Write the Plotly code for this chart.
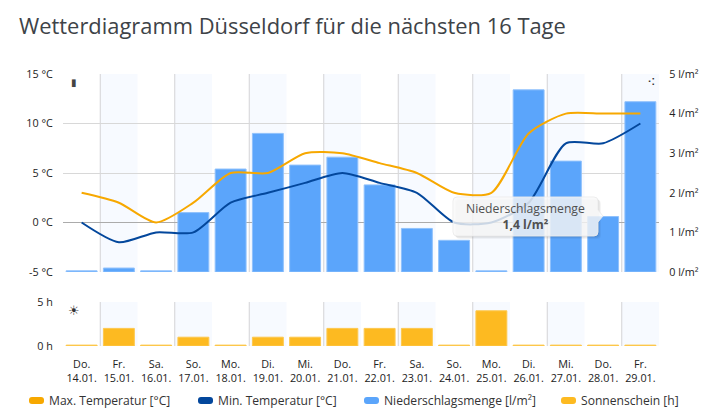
import plotly.graph_objects as go

days = ["Do.", "Fr.", "Sa.", "So.", "Mo.", "Di.", "Mi.", "Do.", "Fr.", "Sa.", "So.", "Mo.", "Di.", "Mi.", "Do.", "Fr."]
dates = ["14.01.", "15.01.", "16.01.", "17.01.", "18.01.", "19.01.", "20.01.", "21.01.",
         "22.01.", "23.01.", "24.01.", "25.01.", "26.01.", "27.01.", "28.01.", "29.01."]
temp_max = [3, 2, 0, 2, 5, 5, 7, 7, 6, 5, 3, 3, 9, 11, 11, 11]
temp_min = [0, -2, -1, -1, 2, 3, 4, 5, 4, 3, 0, 0, 2, 8, 8, 10]
rain = [0, 0.1, 0, 1.5, 2.6, 3.5, 2.7, 2.9, 2.2, 1.1, 0.8, 0, 4.6, 2.8, 1.4, 4.3]
sun = [0, 2, 0, 1, 0, 1, 1, 2, 2, 2, 0, 4, 0, 0, 0, 0]
temp_ticks = [-5, 0, 5, 10, 15]
rain_ticks = [0, 1, 2, 3, 4, 5]
sun_ticks = [0, 5]
legend_names = ["Max. Temperatur [°C]", "Min. Temperatur [°C]", "Niederschlagsmenge [l/m²]", "Sonnenschein [h]"]

FONT = "Open Sans"
PAGE = 8  # the page body offsets the figure by this many pixels
W, H = 728 - PAGE, 420 - PAGE
L, R, T, B = 63, 659, 74, 346  # plot area in screenshot pixels
idx = list(range(len(days)))
labels = [f"{d}<br>{t}" for d, t in zip(days, dates)]

px = lambda v: (v - L) / (R - L)
py = lambda v: (B - v) / (B - T)

# the reference gives zero values a minimum visible bar height (about 1 px)
min_len = lambda values, least: [max(v, least) for v in values]

fig = go.Figure()
fig.add_trace(go.Bar(x=idx, y=min_len(rain, 0.03), name=legend_names[2], yaxis="y", width=0.83,
                     marker=dict(color="#5BA5FB", line=dict(color="#8FC1FC", width=1)), showlegend=False))
fig.add_trace(go.Bar(x=idx, y=min_len(sun, 0.1), name=legend_names[3], xaxis="x", yaxis="y3", width=0.83,
                     marker=dict(color="#FDBA21", line=dict(color="#FDC84F", width=1)), showlegend=False))
fig.add_trace(go.Scatter(x=idx, y=temp_max, name=legend_names[0], mode="lines", yaxis="y2",
                         line=dict(color="#F7A800", width=2, shape="spline", smoothing=0.7), showlegend=False))
fig.add_trace(go.Scatter(x=idx, y=temp_min, name=legend_names[1], mode="lines", yaxis="y2",
                         line=dict(color="#03479C", width=2, shape="spline", smoothing=0.7), showlegend=False))

shapes = []
for i in idx:
    if i % 2 == 1:
        for yr in ("y domain", "y3 domain"):
            shapes.append(dict(type="rect", xref="x", yref=yr, x0=i - 0.5, x1=i + 0.5, y0=0, y1=1,
                               fillcolor="#F7FAFF", line_width=0, layer="below"))
        for yr in ("y domain", "y3 domain"):
            shapes.append(dict(type="line", xref="x", yref=yr, x0=i - 0.5, x1=i - 0.5, y0=0, y1=1,
                               line=dict(color="#D3D3D6", width=1), layer="below"))

def rrect(x0, y0, x1, y1, r, tip=None):
    p = f"M{px(x0+r)},{py(y0)} L{px(x1-r)},{py(y0)} Q{px(x1)},{py(y0)} {px(x1)},{py(y0+r)} "
    if tip:
        p += f"L{px(x1)},{py(tip[1]-6)} L{px(tip[0])},{py(tip[1])} L{px(x1)},{py(tip[1]+6)} "
    p += (f"L{px(x1)},{py(y1-r)} Q{px(x1)},{py(y1)} {px(x1-r)},{py(y1)} L{px(x0+r)},{py(y1)} "
          f"Q{px(x0)},{py(y1)} {px(x0)},{py(y1-r)} L{px(x0)},{py(y0+r)} Q{px(x0)},{py(y0)} {px(x0+r)},{py(y0)} Z")
    return p

for o, a in ((3, .04), (2, .05), (1, .06)):
    shapes.append(dict(type="path", xref="paper", yref="paper", path=rrect(453+o, 197+o, 598+o, 236+o, 4),
                       fillcolor=f"rgba(0,0,0,{a})", line_width=0, layer="above"))
shapes.append(dict(type="path", xref="paper", yref="paper", path=rrect(453, 197, 598, 236, 4, (603, 216)),
                   fillcolor="rgba(252,252,252,0.8)", line=dict(color="rgba(235,235,235,0.9)", width=1), layer="above"))

annotations = []
for name, color, x0 in zip(legend_names, ["#F7A800", "#03479C", "#5BA5FB", "#FDBA21"], [29, 198, 364, 561]):
    shapes.append(dict(type="path", xref="paper", yref="paper",
                       path=rrect(x0, 397, x0 + 15, 404, 3), fillcolor=color, line_width=0))
    annotations.append(dict(text=name, xref="paper", yref="paper", x=px(x0 + 18), y=py(400.5),
                            xanchor="left", yanchor="middle", showarrow=False,
                            font=dict(family=FONT, size=12.1, color="#333333")))

def note(text, x, y, font, size, color):
    annotations.append(dict(text=text, xref="paper", yref="paper", x=px(x), y=py(y),
                            xanchor="center", yanchor="middle", showarrow=False,
                            font=dict(family=font, size=size, color=color)))

note("Niederschlagsmenge<br><b>1,4 l/m²</b>", 525.5, 216.5, FONT, 12.2, "#505050")
note("▮", 74, 82, "DejaVu Sans", 10, "#444444")
note("☀", 74, 310.5, "DejaVu Sans", 13, "#333333")
note("⁖", 651, 81.5, "DejaVu Sans", 15, "#333333")

dom_top = [(B - 272) / (B - T), 1]
dom_bot = [0, (B - 302) / (B - T)]
tick = dict(family=FONT, size=10.8, color="#222222")
fig.update_layout(
    width=W, height=H, autosize=False,
    margin=dict(l=L - PAGE, r=W - (R - PAGE), t=T - PAGE, b=H - (B - PAGE)),
    paper_bgcolor="white", plot_bgcolor="white", barmode="overlay", showlegend=False,
    title=dict(text="Wetterdiagramm Düsseldorf für die nächsten 16 Tage", x=(19 - PAGE) / W, xanchor="left",
               y=1 - (26 - PAGE) / H, yanchor="middle", font=dict(family=FONT, size=21.9, color="#3E4348")),
    xaxis=dict(range=[-0.5, 15.5], tickmode="array", tickvals=idx, ticktext=labels, showgrid=False,
               zeroline=False, ticks="", tickfont=tick, anchor="y3", showline=False, ticklabelstandoff=10),
    yaxis=dict(domain=dom_top, range=[0, 5], side="right", tickvals=rain_ticks,
               ticktext=[f"{v} l/m²" for v in rain_ticks], tickfont=tick, showgrid=False, zeroline=False,
               ticks="outside", ticklen=7, tickcolor="rgba(0,0,0,0)", anchor="x"),
    yaxis2=dict(domain=dom_top, range=[-5, 15], overlaying="y", side="left", tickvals=temp_ticks,
                ticktext=[f"{v} °C" for v in temp_ticks], tickfont=tick, gridcolor="#D8D8D8", zeroline=True,
                zerolinecolor="#ABABAB", zerolinewidth=1, ticks="outside", ticklen=7,
                tickcolor="rgba(0,0,0,0)", anchor="x"),
    yaxis3=dict(domain=dom_bot, range=[0, 5], tickvals=sun_ticks, ticktext=[f"{v} h" for v in sun_ticks],
                tickfont=tick, gridcolor="#E6E6E6", gridwidth=2, zeroline=False,
                ticks="outside", ticklen=7, tickcolor="rgba(0,0,0,0)", anchor="x"),
    shapes=shapes, annotations=annotations,
)
fig.write_html("out.html", config=dict(displayModeBar=False))
